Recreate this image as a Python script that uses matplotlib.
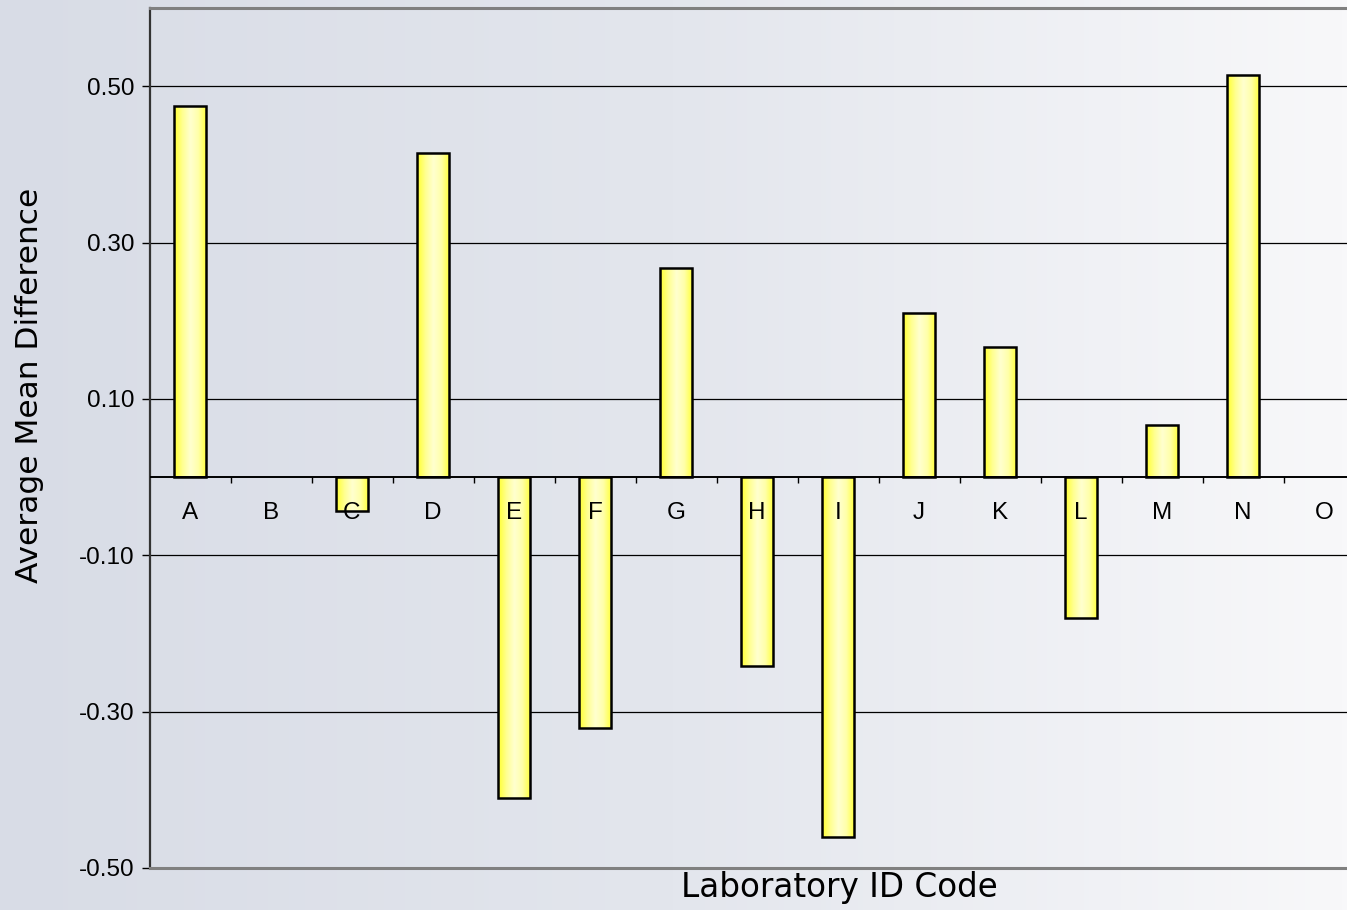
import numpy as np
import matplotlib
matplotlib.use("Agg")
import matplotlib.pyplot as plt
from matplotlib.colors import LinearSegmentedColormap

labs = ["A", "B", "C", "D", "E", "F", "G", "H", "I", "J", "K", "L", "M", "N", "O"]
mean_diff = [0.475, 0.0, -0.043, 0.414, -0.411, -0.321, 0.268, -0.242, -0.460,
             0.210, 0.166, -0.180, 0.066, 0.514, 0.0]
y_ticks = [0.50, 0.30, 0.10, -0.10, -0.30, -0.50]
y_range = (-0.5, 0.6)

W, H = 1347, 910
fig = plt.figure(figsize=(W / 100, H / 100), dpi=100)

# Figure-wide horizontal background gradient
bg = fig.add_axes([0, 0, 1, 1], zorder=-10)
bg_cmap = LinearSegmentedColormap.from_list("bg", ["#d8dce6", "#e3e6ed", "#f8f8fa"])
bg.imshow(np.linspace(0, 1, 256)[None, :], aspect="auto", cmap=bg_cmap,
          extent=[0, 1, 0, 1])
bg.set_axis_off()

left, right, bottom, top = 149.5 / W, 1364.5 / W, 1 - 868 / H, 1 - 8 / H
ax = fig.add_axes([left, bottom, right - left, top - bottom])
ax.set_facecolor("none")

n = len(labs)
x = np.arange(n)
ax.set_xlim(-0.5, n - 0.5)
ax.set_ylim(*y_range)

# Gridlines
for v in y_ticks[:-1]:
    ax.axhline(v, color="black", lw=0.9, zorder=1)

# Bars with horizontal yellow gradient
bar_cmap = LinearSegmentedColormap.from_list(
    "bar", ["#ffff30", "#ffff90", "#ffffd0", "#ffffa8", "#ffff38"])
grad = np.linspace(0, 1, 64)[None, :]
bars = ax.bar(x, mean_diff, width=0.4, color="none", edgecolor="black",
              linewidth=1.8, zorder=4)
for b, v in zip(bars, mean_diff):
    if v == 0:
        b.set_visible(False)
        continue
    x0, w = b.get_x(), b.get_width()
    y0, y1 = sorted([0, v])
    im = ax.imshow(grad, aspect="auto", cmap=bar_cmap,
                   extent=[x0, x0 + w, y0, y1], zorder=3, interpolation="bicubic")
    im.set_clip_path(b)
ax.set_xlim(-0.5, n - 0.5)
ax.set_ylim(*y_range)

# Category axis drawn along zero
ax.axhline(0, color="black", lw=1.4, zorder=5)
tick_len = 0.1 / 78.25 * 6
ax.vlines(x[1:] - 0.5, -tick_len, 0, color="black", lw=1.0, zorder=5)
for xi, lab in zip(x, labs):
    ax.annotate(lab, (xi, 0), xytext=(0, -26), textcoords="offset points",
                ha="center", va="center", fontsize=17.5,
                family="Liberation Sans", zorder=6)
ax.set_xticks([])

# Value axis
ax.set_yticks(y_ticks)
ax.set_yticklabels([f"{v:.2f}" for v in y_ticks], fontsize=17.5,
                   family="Liberation Sans")
ax.tick_params(axis="y", length=6, width=1.0, pad=5)

for s in ["top", "bottom"]:
    ax.spines[s].set_color("#808080")
    ax.spines[s].set_linewidth(2.2)
ax.spines["left"].set_color("#333333")
ax.spines["left"].set_linewidth(1.6)
ax.spines["right"].set_visible(False)

fig.text(30 / W, 1 - 385 / H, "Average Mean Difference", rotation=90,
         ha="center", va="center", fontsize=22.5, family="DejaVu Sans")
fig.text(839 / W, 1 - 888 / H, "Laboratory ID Code", ha="center", va="center",
         fontsize=23.5, family="DejaVu Sans")

fig.savefig("out.png", dpi=100)
